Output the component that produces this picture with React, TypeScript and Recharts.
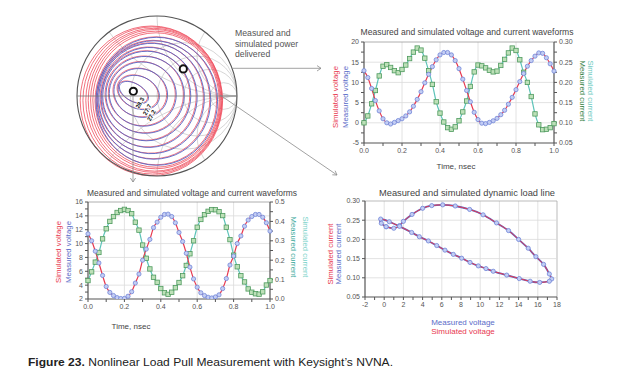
import React from 'react';
import { LineChart, Line, XAxis, YAxis, ReferenceLine, ScatterChart, Scatter } from 'recharts';

const FONT = '"Liberation Sans", Arial, Helvetica, sans-serif';

// shared time grid, ns
const timeNs = [
  0, 0.02, 0.04, 0.06, 0.08, 0.1, 0.12, 0.14, 0.16, 0.18, 0.2, 0.22, 0.24, 0.26, 0.28, 0.3, 0.32,
  0.34, 0.36, 0.38, 0.4, 0.42, 0.44, 0.46, 0.48, 0.5, 0.52, 0.54, 0.56, 0.58, 0.6, 0.62, 0.64, 0.66,
  0.68, 0.7, 0.72, 0.74, 0.76, 0.78, 0.8, 0.82, 0.84, 0.86, 0.88, 0.9, 0.92, 0.94, 0.96, 0.98, 1.0,
];

// upper waveform chart
const voltageA = [
  12.9, 11.2, 8.5, 5.5, 2.95, 1.0, 0.0, -0.3, 0.1, 0.55, 1.0, 1.7, 2.7, 4.1, 5.8, 7.7, 9.9, 12.0,
  13.9, 15.6, 16.8, 17.4, 17.4, 16.8, 15.4, 13.4, 10.8, 8.0, 5.2, 2.6, 0.8, -0.1, -0.2, 0.1, 0.5,
  1.1, 2.0, 3.1, 4.6, 6.3, 8.2, 10.2, 12.2, 14.0, 15.4, 16.5, 17.3, 17.2, 16.1, 14.6, 12.8,
];
const currentA = [
  0.1, 0.117, 0.147, 0.18, 0.216, 0.24, 0.244, 0.237, 0.229, 0.224, 0.232, 0.243, 0.259, 0.275,
  0.285, 0.28, 0.26, 0.229, 0.195, 0.152, 0.124, 0.102, 0.088, 0.084, 0.09, 0.105, 0.127, 0.154,
  0.19, 0.226, 0.243, 0.241, 0.236, 0.23, 0.226, 0.228, 0.242, 0.257, 0.273, 0.285, 0.279, 0.256,
  0.225, 0.2, 0.165, 0.122, 0.095, 0.083, 0.084, 0.088, 0.098,
];

// lower waveform chart
const voltageB = [
  11.4, 10.4, 8.9, 7.2, 5.4, 3.8, 2.95, 2.5, 2.2, 2.07, 2.08, 2.4, 3.05, 4.3, 5.6, 7.6, 9.2, 10.6,
  12.3, 13.1, 13.8, 14.2, 14.25, 13.9, 13.0, 11.6, 10.3, 8.6, 6.6, 4.9, 3.7, 2.9, 2.5, 2.25, 2.15,
  2.3, 2.6, 3.5, 4.95, 6.9, 8.2, 10.0, 11.1, 12.5, 13.4, 13.9, 14.2, 14.2, 13.8, 13.0, 11.8,
];
const currentB = [
  0.095, 0.14, 0.19, 0.24, 0.31, 0.362, 0.4, 0.425, 0.446, 0.456, 0.462, 0.456, 0.44, 0.396, 0.355,
  0.278, 0.21, 0.155, 0.112, 0.086, 0.054, 0.032, 0.024, 0.035, 0.058, 0.085, 0.12, 0.173, 0.233,
  0.3, 0.37, 0.41, 0.435, 0.452, 0.461, 0.46, 0.45, 0.43, 0.37, 0.306, 0.226, 0.166, 0.12, 0.088,
  0.052, 0.035, 0.027, 0.025, 0.037, 0.072, 0.095,
];

// dynamic load line, voltage (V) / current (A)
const loadV = [
  0.2, 1.0, 1.6, 2.0, 2.9, 4.0, 4.95, 6.1, 7.4, 8.9, 10.3, 11.7, 12.95, 14.0, 15.0, 15.8, 16.6,
  17.2, 17.45, 17.2, 16.2, 15.2, 14.07, 12.76, 11.36, 10.6, 9.8, 8.94, 8.07, 7.2, 6.33, 5.47, 4.6,
  3.66, 2.86, 1.6, 0.53, -0.37, -0.3, 0.2,
];
const loadI = [
  0.233, 0.229, 0.236, 0.247, 0.265, 0.281, 0.288, 0.29, 0.287, 0.278, 0.264, 0.243, 0.223, 0.2,
  0.177, 0.155, 0.135, 0.11, 0.097, 0.091, 0.088, 0.091, 0.098, 0.107, 0.117, 0.124, 0.131, 0.14,
  0.151, 0.161, 0.172, 0.184, 0.196, 0.207, 0.218, 0.234, 0.246, 0.253, 0.242, 0.233,
];

// Smith chart power contours: [centre x, centre y, semi-axis a, semi-axis b, tilt deg] in reflection-coefficient units
const blueRings = [
  [-0.3, 0.05, 0.2, 0.11, -30],
  [-0.24, 0.05, 0.27, 0.2, -25],
  [-0.215, 0.044, 0.34, 0.3, -20],
  [-0.19, 0.03, 0.42, 0.4, -15],
  [-0.16, 0.02, 0.49, 0.48, -10],
  [-0.14, 0.006, 0.55, 0.56, -8],
  [-0.11, -0.012, 0.6, 0.625, -5],
  [-0.08, -0.025, 0.66, 0.69, -3],
  [-0.05, -0.044, 0.71, 0.74, 0],
  [-0.015, -0.06, 0.76, 0.8, 0],
];
const redRings = [
  ...blueRings,
  [-0.012, -0.05, 0.79, 0.84, 0],
  [-0.02, -0.05, 0.81, 0.86, 0],
  [-0.03, -0.054, 0.83, 0.885, 0],
  [-0.04, -0.054, 0.85, 0.9, 0],
  [-0.056, -0.056, 0.87, 0.92, 0],
  [-0.07, -0.06, 0.89, 0.935, 0],
];
const optimumPoints = [
  { x: -0.296, y: 0.059 },
  { x: 0.329, y: 0.338 },
];
const contourLabels = ['28.3', '27.7', '27.2'];

const timeTicks = [0, 0.1, 0.2, 0.3, 0.4, 0.5, 0.6, 0.7, 0.8, 0.9, 1.0];
const voltTicksA = [-5, -2.5, 0, 2.5, 5, 7.5, 10, 12.5, 15, 17.5, 20];
const ampTicksA = [0.05, 0.075, 0.1, 0.125, 0.15, 0.175, 0.2, 0.225, 0.25, 0.275, 0.3];
const voltTicksB = [2, 3, 4, 5, 6, 7, 8, 9, 10, 11, 12, 13, 14, 15, 16];
const ampTicksB = [0, 0.05, 0.1, 0.15, 0.2, 0.25, 0.3, 0.35, 0.4, 0.45, 0.5];
const loadVTicks = [-2, -1, 0, 1, 2, 3, 4, 5, 6, 7, 8, 9, 10, 11, 12, 13, 14, 15, 16, 17, 18];
const loadITicks = [0.05, 0.1, 0.15, 0.2, 0.25, 0.3];

const RED = '#e8384f';
const BLUE = '#5a6cc8';
const TEAL = '#5cc3b8';
const GRID = '#dadada';
const AXIS = '#555';
const tick = { fontSize: 7, fill: '#555', fontFamily: FONT };

const isStep = (v: number, step: number) => Math.abs(v / step - Math.round(v / step)) < 1e-6;

const CircleDot = (p: any) =>
  p.cx == null ? (
    <g key={`c${p.index}`} />
  ) : (
    <circle key={`c${p.index}`} cx={p.cx} cy={p.cy} r={2.1} fill="#c3cdf3" stroke="#7085d8" strokeWidth={0.8} />
  );
const SquareDot = (p: any) =>
  p.cx == null ? (
    <g key={`s${p.index}`} />
  ) : (
    <rect key={`s${p.index}`} x={p.cx - 2.2} y={p.cy - 2.2} width={4.4} height={4.4} fill="#bde0b8" stroke="#4e9a5e" strokeWidth={0.8} />
  );
const NoShape = () => <g />;
const OptimumShape = (p: any) => <circle cx={p.cx} cy={p.cy} r={3.6} fill="#fff" stroke="#111" strokeWidth={2} />;

function ringPoints(ring: number[]) {
  const [cx, cy, a, b, tilt] = ring;
  const r = (tilt * Math.PI) / 180;
  const pts = [];
  for (let k = 0; k <= 48; k++) {
    const th = (k / 48) * 2 * Math.PI;
    const x0 = a * Math.cos(th);
    const y0 = b * Math.sin(th);
    pts.push({ x: cx + x0 * Math.cos(r) - y0 * Math.sin(r), y: cy + x0 * Math.sin(r) + y0 * Math.cos(r) });
  }
  return pts;
}

interface WaveProps {
  left: number;
  top: number;
  width: number;
  height: number;
  margin: { top: number; right: number; bottom: number; left: number };
  volts: number[];
  amps: number[];
  vDomain: number[];
  vTicks: number[];
  vStep: number;
  iDomain: number[];
  iTicks: number[];
  iStep: number;
  iDigits: number;
}

function Waveform(p: WaveProps) {
  const rows = timeNs.map((t, k) => ({ t, v: p.volts[k], i: p.amps[k] }));
  const vMajors = p.vTicks.filter((v) => isStep(v, p.vStep));
  return (
    <div style={{ position: 'absolute', left: p.left, top: p.top }}>
      <LineChart width={p.width} height={p.height} data={rows} margin={p.margin}>
        <XAxis
          dataKey="t"
          type="number"
          domain={[0, 1]}
          ticks={timeTicks}
          interval={0}
          tickFormatter={(v: number) => (isStep(v, 0.2) ? v.toFixed(1) : '')}
          tick={tick}
          tickSize={3}
          height={14}
          stroke={AXIS}
          axisLine={{ stroke: AXIS, strokeWidth: 1.2 }}
        />
        <YAxis
          yAxisId="v"
          type="number"
          domain={p.vDomain}
          ticks={p.vTicks}
          interval={0}
          tickFormatter={(v: number) => (isStep(v, p.vStep) ? String(v) : '')}
          tick={tick}
          tickSize={3}
          width={24}
          stroke={AXIS}
          axisLine={{ stroke: AXIS, strokeWidth: 1.2 }}
          allowDataOverflow
        />
        <YAxis
          yAxisId="i"
          orientation="right"
          type="number"
          domain={p.iDomain}
          ticks={p.iTicks}
          interval={0}
          tickFormatter={(v: number) => (isStep(v, p.iStep) ? v.toFixed(p.iDigits) : '')}
          tick={tick}
          tickSize={3}
          width={30}
          stroke={AXIS}
          axisLine={{ stroke: AXIS, strokeWidth: 1.2 }}
          allowDataOverflow
        />
        {[0.2, 0.4, 0.6, 0.8].map((x) => (
          <ReferenceLine key={`gx${x}`} x={x} yAxisId="v" stroke={GRID} strokeWidth={0.8} />
        ))}
        {vMajors.slice(1, -1).map((y) => (
          <ReferenceLine key={`gy${y}`} y={y} yAxisId="v" stroke={GRID} strokeWidth={0.8} />
        ))}
        <ReferenceLine y={p.vDomain[1]} yAxisId="v" stroke="#999" strokeWidth={0.8} />
        <Line
          yAxisId="i"
          dataKey="i"
          type="monotone"
          stroke={TEAL}
          strokeWidth={1.2}
          dot={SquareDot}
          isAnimationActive={false}
        />
        <Line
          yAxisId="v"
          dataKey="v"
          type="monotone"
          stroke="transparent"
          dot={CircleDot}
          isAnimationActive={false}
        />
        <Line yAxisId="v" dataKey="v" type="monotone" stroke={RED} strokeWidth={1.2} dot={false} isAnimationActive={false} />
      </LineChart>
    </div>
  );
}

function LoadLine() {
  const rows = loadV.map((v, k) => ({ v, i: loadI[k] }));
  return (
    <div style={{ position: 'absolute', left: 320, top: 190 }}>
      <LineChart width={245} height={123} data={rows} margin={{ top: 11, right: 8, bottom: 2, left: 19 }}>
        <XAxis
          dataKey="v"
          type="number"
          domain={[-2, 18]}
          ticks={loadVTicks}
          interval={0}
          tickFormatter={(v: number) => (isStep(v, 2) ? String(v) : '')}
          tick={tick}
          tickSize={3}
          height={14}
          stroke={AXIS}
          axisLine={{ stroke: AXIS, strokeWidth: 1.2 }}
        />
        <YAxis
          type="number"
          domain={[0.05, 0.3]}
          ticks={loadITicks}
          interval={0}
          tickFormatter={(v: number) => v.toFixed(2)}
          tick={tick}
          tickSize={3}
          width={26}
          stroke={AXIS}
          axisLine={{ stroke: AXIS, strokeWidth: 1.2 }}
        />
        {loadVTicks.filter((v) => isStep(v, 2) && v > -2).map((x) => (
          <ReferenceLine key={`lx${x}`} x={x} stroke={x === 18 ? '#aaa' : GRID} strokeWidth={0.8} />
        ))}
        {loadITicks.slice(1).map((y) => (
          <ReferenceLine key={`ly${y}`} y={y} stroke={y === 0.3 ? '#aaa' : GRID} strokeWidth={0.8} />
        ))}
        <Line dataKey="i" type="natural" stroke={BLUE} strokeWidth={1.8} dot={CircleDot} isAnimationActive={false} />
        <Line dataKey="i" type="natural" stroke={RED} strokeWidth={1} dot={false} isAnimationActive={false} />
      </LineChart>
    </div>
  );
}

function SmithGrid() {
  const s = { fill: 'none', stroke: '#c4c4c4', strokeWidth: 0.7, vectorEffect: 'non-scaling-stroke' as const };
  return (
    <svg width={160} height={160} viewBox="-1 -1 2 2" style={{ position: 'absolute', left: 77, top: 16, overflow: 'visible' }}>
      <defs>
        <clipPath id="unit">
          <circle cx={0} cy={0} r={1} />
        </clipPath>
      </defs>
      <g transform="scale(1,-1)" clipPath="url(#unit)">
        <circle cx={1 / 3} cy={0} r={2 / 3} {...s} />
        <circle cx={0.5} cy={0} r={0.5} {...s} />
        <circle cx={2 / 3} cy={0} r={1 / 3} {...s} />
        <circle cx={5 / 6} cy={0} r={1 / 6} {...s} />
        <circle cx={1} cy={2} r={2} {...s} />
        <circle cx={1} cy={-2} r={2} {...s} />
        <circle cx={1} cy={1} r={1} {...s} />
        <circle cx={1} cy={-1} r={1} {...s} />
        <circle cx={1} cy={0.5} r={0.5} {...s} />
        <circle cx={1} cy={-0.5} r={0.5} {...s} />
      </g>
    </svg>
  );
}

function Smith() {
  return (
    <>
      <SmithGrid />
      <div style={{ position: 'absolute', left: 77, top: 16 }}>
        <ScatterChart width={160} height={160} margin={{ top: 0, right: 0, bottom: 0, left: 0 }}>
          <XAxis dataKey="x" type="number" domain={[-1, 1]} hide />
          <YAxis dataKey="y" type="number" domain={[-1, 1]} hide />
          {redRings.map((r, k) => (
            <Scatter
              key={`r${k}`}
              data={ringPoints(r)}
              line={{ stroke: '#ef4d5d', strokeWidth: 0.8 }}
              shape={NoShape}
              isAnimationActive={false}
            />
          ))}
          {blueRings.map((r, k) => (
            <Scatter
              key={`b${k}`}
              data={ringPoints([r[0] + 0.012, r[1] - 0.006, r[2], r[3], r[4]])}
              line={{ stroke: '#5565c6', strokeWidth: 0.9 }}
              shape={NoShape}
              isAnimationActive={false}
            />
          ))}
          <Scatter data={optimumPoints} shape={OptimumShape} isAnimationActive={false} />
        </ScatterChart>
      </div>
      <svg width={160} height={160} viewBox="-1 -1 2 2" style={{ position: 'absolute', left: 77, top: 16, overflow: 'visible' }}>
        <circle cx={0} cy={0} r={1} fill="none" stroke="#555" strokeWidth={1.1} vectorEffect="non-scaling-stroke" />
        <line x1={-1} y1={0} x2={1} y2={0} stroke="#777" strokeWidth={0.8} vectorEffect="non-scaling-stroke" />
      </svg>
    </>
  );
}

function VText({ x, y, color, children, rot = -90, size = 7.8 }: any) {
  return (
    <text x={x} y={y} transform={`rotate(${rot} ${x} ${y})`} textAnchor="middle" dominantBaseline="central" fontSize={size} fill={color}>
      {children}
    </text>
  );
}

function Overlay() {
  const arrow = { stroke: '#8a8a8a', strokeWidth: 0.8, fill: 'none' };
  return (
    <svg width={624} height={380} style={{ position: 'absolute', left: 0, top: 0, pointerEvents: 'none' }} fontFamily={FONT}>
      {/* smith chart annotations */}
      <text x={235} y={36} fontSize={8.7} fill="#555">Measured and</text>
      <text x={235} y={46.5} fontSize={8.7} fill="#555">simulated power</text>
      <text x={235} y={57} fontSize={8.7} fill="#555">delivered</text>
      <polyline points="233,68.3 321,68.3" {...arrow} />
      <polyline points="317,65.6 321,68.3 317,71" {...arrow} />
      <polyline points="220,95 337,175" {...arrow} />
      <polyline points="332.3,174.8 337,175 335.1,170.7" {...arrow} />
      <polyline points="133,95 133,182" {...arrow} />
      <polyline points="130.4,178 133,182 135.6,178" {...arrow} />
      {contourLabels.map((s, k) => {
        const pos = [
          [140, 103],
          [147.3, 109.7],
          [151.5, 115.5],
        ][k];
        return (
          <text
            key={s}
            x={pos[0]}
            y={pos[1]}
            transform={`rotate(-62 ${pos[0]} ${pos[1]})`}
            textAnchor="middle"
            dominantBaseline="central"
            fontSize={6}
            fontWeight="bold"
            fill="#111"
            stroke="#fff"
            strokeWidth={1.5}
            paintOrder="stroke"
          >
            {s}
          </text>
        );
      })}

      {/* upper waveform chart */}
      <text x={467} y={35} textAnchor="middle" fontSize={8.8} fill="#444" textLength={213} lengthAdjust="spacingAndGlyphs">
        Measured and simulated voltage and current waveforms
      </text>
      <VText x={335} y={97} color={RED}>Simulated voltage</VText>
      <VText x={345} y={97} color={BLUE}>Measured voltage</VText>
      <VText x={582} y={91} color="#2f7d3c" rot={90}>Measured current</VText>
      <VText x={590.5} y={91} color="#6ccac0" rot={90}>Simulated current</VText>
      <text x={456} y={169} textAnchor="middle" fontSize={8} fill="#444">Time, nsec</text>

      {/* lower waveform chart */}
      <text x={192} y={196} textAnchor="middle" fontSize={8.8} fill="#444" textLength={210} lengthAdjust="spacingAndGlyphs">
        Measured and simulated voltage and current waveforms
      </text>
      <VText x={58} y={252} color={RED}>Simulated voltage</VText>
      <VText x={68} y={252} color={BLUE}>Measured voltage</VText>
      <VText x={293} y={247} color="#3aa99b" rot={90}>Measured current</VText>
      <VText x={305} y={247} color="#7ad2c9" rot={90}>Simulated current</VText>
      <text x={131} y={329} textAnchor="middle" fontSize={8} fill="#444">Time, nsec</text>

      {/* load line chart */}
      <text x={467} y={196} textAnchor="middle" fontSize={8.8} fill="#444" textLength={176} lengthAdjust="spacingAndGlyphs">
        Measured and simulated dynamic load line
      </text>
      <VText x={330} y={254} color={RED}>Simulated current</VText>
      <VText x={338.5} y={254} color={BLUE}>Measured current</VText>
      <text x={463} y={325} textAnchor="middle" fontSize={8} fill={BLUE}>Measured voltage</text>
      <text x={463} y={334} textAnchor="middle" fontSize={8} fill={RED}>Simulated voltage</text>

      {/* caption */}
      <text x={28} y={366} fontSize={11} fill="#222" textLength={365} lengthAdjust="spacingAndGlyphs">
        <tspan fontWeight="bold">Figure 23.</tspan>
        <tspan> Nonlinear Load Pull Measurement with Keysight’s NVNA.</tspan>
      </text>
    </svg>
  );
}

export default function App() {
  return (
    <div style={{ position: 'absolute', left: 0, top: 0, width: 624, height: 380, background: '#fff', fontFamily: FONT, overflow: 'hidden' }}>
      <Smith />
      <Waveform
        left={320}
        top={30}
        width={270}
        height={129}
        margin={{ top: 12, right: 6, bottom: 2, left: 20 }}
        volts={voltageA}
        amps={currentA}
        vDomain={[-5, 20]}
        vTicks={voltTicksA}
        vStep={5}
        iDomain={[0.05, 0.3]}
        iTicks={ampTicksA}
        iStep={0.05}
        iDigits={2}
      />
      <Waveform
        left={45}
        top={190}
        width={260}
        height={125}
        margin={{ top: 12, right: 5, bottom: 2, left: 19 }}
        volts={voltageB}
        amps={currentB}
        vDomain={[2, 16]}
        vTicks={voltTicksB}
        vStep={2}
        iDomain={[0, 0.5]}
        iTicks={ampTicksB}
        iStep={0.1}
        iDigits={1}
      />
      <LoadLine />
      <Overlay />
    </div>
  );
}
